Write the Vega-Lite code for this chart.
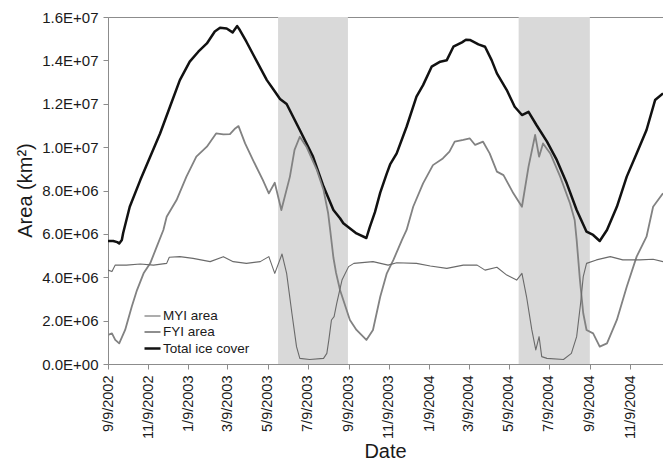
{
  "$schema": "https://vega.github.io/schema/vega-lite/v6.json",
  "width": 555,
  "height": 347,
  "autosize": {"type": "none"},
  "padding": {"left": 108, "top": 17, "right": 0, "bottom": 104},
  "background": "white",
  "config": {
    "font": "Liberation Sans",
    "view": {"stroke": "#8c8c8c", "strokeWidth": 1},
    "axis": {"grid": false, "domainColor": "#8c8c8c", "tickColor": "#8c8c8c", "tickSize": 5, "labelColor": "#1a1a1a", "titleColor": "#1a1a1a", "labelFont": "Liberation Sans", "titleFont": "Liberation Sans", "titleFontWeight": "normal"}
  },
  "datasets": {
    "shade": [
      {"start": "2003-05-25", "end": "2003-09-08"},
      {"start": "2004-05-24", "end": "2004-09-09"}
    ],
    "ice": [
      {"date": "2002-09-09", "series": "Total ice cover", "value": 5670000},
      {"date": "2002-09-17", "series": "Total ice cover", "value": 5670000},
      {"date": "2002-09-23", "series": "Total ice cover", "value": 5620000},
      {"date": "2002-09-26", "series": "Total ice cover", "value": 5560000},
      {"date": "2002-09-30", "series": "Total ice cover", "value": 5720000},
      {"date": "2002-10-02", "series": "Total ice cover", "value": 6040000},
      {"date": "2002-10-12", "series": "Total ice cover", "value": 7250000},
      {"date": "2002-10-28", "series": "Total ice cover", "value": 8480000},
      {"date": "2002-11-12", "series": "Total ice cover", "value": 9560000},
      {"date": "2002-11-27", "series": "Total ice cover", "value": 10630000},
      {"date": "2002-12-12", "series": "Total ice cover", "value": 11860000},
      {"date": "2002-12-27", "series": "Total ice cover", "value": 13090000},
      {"date": "2003-01-11", "series": "Total ice cover", "value": 13940000},
      {"date": "2003-01-24", "series": "Total ice cover", "value": 14400000},
      {"date": "2003-02-06", "series": "Total ice cover", "value": 14780000},
      {"date": "2003-02-18", "series": "Total ice cover", "value": 15330000},
      {"date": "2003-02-26", "series": "Total ice cover", "value": 15500000},
      {"date": "2003-03-08", "series": "Total ice cover", "value": 15470000},
      {"date": "2003-03-17", "series": "Total ice cover", "value": 15290000},
      {"date": "2003-03-24", "series": "Total ice cover", "value": 15580000},
      {"date": "2003-03-28", "series": "Total ice cover", "value": 15400000},
      {"date": "2003-04-07", "series": "Total ice cover", "value": 14860000},
      {"date": "2003-04-23", "series": "Total ice cover", "value": 13940000},
      {"date": "2003-05-08", "series": "Total ice cover", "value": 13090000},
      {"date": "2003-05-18", "series": "Total ice cover", "value": 12660000},
      {"date": "2003-05-28", "series": "Total ice cover", "value": 12220000},
      {"date": "2003-06-07", "series": "Total ice cover", "value": 11990000},
      {"date": "2003-06-27", "series": "Total ice cover", "value": 10790000},
      {"date": "2003-07-17", "series": "Total ice cover", "value": 9560000},
      {"date": "2003-08-02", "series": "Total ice cover", "value": 8180000},
      {"date": "2003-08-17", "series": "Total ice cover", "value": 7100000},
      {"date": "2003-08-27", "series": "Total ice cover", "value": 6720000},
      {"date": "2003-09-01", "series": "Total ice cover", "value": 6490000},
      {"date": "2003-09-21", "series": "Total ice cover", "value": 6020000},
      {"date": "2003-10-06", "series": "Total ice cover", "value": 5810000},
      {"date": "2003-10-11", "series": "Total ice cover", "value": 6300000},
      {"date": "2003-10-19", "series": "Total ice cover", "value": 7000000},
      {"date": "2003-10-27", "series": "Total ice cover", "value": 7900000},
      {"date": "2003-11-06", "series": "Total ice cover", "value": 8790000},
      {"date": "2003-11-11", "series": "Total ice cover", "value": 9200000},
      {"date": "2003-11-21", "series": "Total ice cover", "value": 9710000},
      {"date": "2003-12-06", "series": "Total ice cover", "value": 10940000},
      {"date": "2003-12-21", "series": "Total ice cover", "value": 12330000},
      {"date": "2003-12-31", "series": "Total ice cover", "value": 12860000},
      {"date": "2004-01-13", "series": "Total ice cover", "value": 13710000},
      {"date": "2004-01-26", "series": "Total ice cover", "value": 13940000},
      {"date": "2004-02-05", "series": "Total ice cover", "value": 14010000},
      {"date": "2004-02-15", "series": "Total ice cover", "value": 14630000},
      {"date": "2004-02-28", "series": "Total ice cover", "value": 14830000},
      {"date": "2004-03-05", "series": "Total ice cover", "value": 14950000},
      {"date": "2004-03-11", "series": "Total ice cover", "value": 14940000},
      {"date": "2004-03-24", "series": "Total ice cover", "value": 14740000},
      {"date": "2004-04-03", "series": "Total ice cover", "value": 14630000},
      {"date": "2004-04-13", "series": "Total ice cover", "value": 14010000},
      {"date": "2004-04-21", "series": "Total ice cover", "value": 13400000},
      {"date": "2004-05-06", "series": "Total ice cover", "value": 12630000},
      {"date": "2004-05-18", "series": "Total ice cover", "value": 11860000},
      {"date": "2004-05-29", "series": "Total ice cover", "value": 11480000},
      {"date": "2004-06-08", "series": "Total ice cover", "value": 11630000},
      {"date": "2004-06-20", "series": "Total ice cover", "value": 11020000},
      {"date": "2004-07-06", "series": "Total ice cover", "value": 10250000},
      {"date": "2004-07-21", "series": "Total ice cover", "value": 9400000},
      {"date": "2004-08-05", "series": "Total ice cover", "value": 8330000},
      {"date": "2004-08-20", "series": "Total ice cover", "value": 7100000},
      {"date": "2004-09-04", "series": "Total ice cover", "value": 6100000},
      {"date": "2004-09-14", "series": "Total ice cover", "value": 5950000},
      {"date": "2004-09-24", "series": "Total ice cover", "value": 5670000},
      {"date": "2004-10-05", "series": "Total ice cover", "value": 6180000},
      {"date": "2004-10-20", "series": "Total ice cover", "value": 7250000},
      {"date": "2004-11-04", "series": "Total ice cover", "value": 8640000},
      {"date": "2004-11-19", "series": "Total ice cover", "value": 9710000},
      {"date": "2004-12-04", "series": "Total ice cover", "value": 10790000},
      {"date": "2004-12-17", "series": "Total ice cover", "value": 12170000},
      {"date": "2004-12-29", "series": "Total ice cover", "value": 12480000},

      {"date": "2002-09-09", "series": "FYI area", "value": 1340000},
      {"date": "2002-09-15", "series": "FYI area", "value": 1410000},
      {"date": "2002-09-20", "series": "FYI area", "value": 1110000},
      {"date": "2002-09-26", "series": "FYI area", "value": 950000},
      {"date": "2002-10-05", "series": "FYI area", "value": 1570000},
      {"date": "2002-10-15", "series": "FYI area", "value": 2640000},
      {"date": "2002-10-23", "series": "FYI area", "value": 3410000},
      {"date": "2002-11-02", "series": "FYI area", "value": 4180000},
      {"date": "2002-11-12", "series": "FYI area", "value": 4640000},
      {"date": "2002-11-22", "series": "FYI area", "value": 5410000},
      {"date": "2002-12-02", "series": "FYI area", "value": 6180000},
      {"date": "2002-12-07", "series": "FYI area", "value": 6790000},
      {"date": "2002-12-22", "series": "FYI area", "value": 7560000},
      {"date": "2003-01-06", "series": "FYI area", "value": 8640000},
      {"date": "2003-01-21", "series": "FYI area", "value": 9560000},
      {"date": "2003-02-06", "series": "FYI area", "value": 10020000},
      {"date": "2003-02-20", "series": "FYI area", "value": 10630000},
      {"date": "2003-03-03", "series": "FYI area", "value": 10590000},
      {"date": "2003-03-13", "series": "FYI area", "value": 10600000},
      {"date": "2003-03-21", "series": "FYI area", "value": 10860000},
      {"date": "2003-03-26", "series": "FYI area", "value": 10970000},
      {"date": "2003-04-05", "series": "FYI area", "value": 10170000},
      {"date": "2003-04-17", "series": "FYI area", "value": 9400000},
      {"date": "2003-05-02", "series": "FYI area", "value": 8480000},
      {"date": "2003-05-11", "series": "FYI area", "value": 7870000},
      {"date": "2003-05-20", "series": "FYI area", "value": 8360000},
      {"date": "2003-05-30", "series": "FYI area", "value": 7100000},
      {"date": "2003-06-12", "series": "FYI area", "value": 8640000},
      {"date": "2003-06-19", "series": "FYI area", "value": 9870000},
      {"date": "2003-06-27", "series": "FYI area", "value": 10480000},
      {"date": "2003-07-07", "series": "FYI area", "value": 10020000},
      {"date": "2003-07-23", "series": "FYI area", "value": 8940000},
      {"date": "2003-08-02", "series": "FYI area", "value": 8020000},
      {"date": "2003-08-09", "series": "FYI area", "value": 6950000},
      {"date": "2003-08-12", "series": "FYI area", "value": 6200000},
      {"date": "2003-08-17", "series": "FYI area", "value": 4900000},
      {"date": "2003-08-21", "series": "FYI area", "value": 4200000},
      {"date": "2003-08-27", "series": "FYI area", "value": 3410000},
      {"date": "2003-09-11", "series": "FYI area", "value": 2030000},
      {"date": "2003-09-21", "series": "FYI area", "value": 1570000},
      {"date": "2003-10-06", "series": "FYI area", "value": 1110000},
      {"date": "2003-10-16", "series": "FYI area", "value": 1570000},
      {"date": "2003-10-27", "series": "FYI area", "value": 3100000},
      {"date": "2003-11-06", "series": "FYI area", "value": 4180000},
      {"date": "2003-11-16", "series": "FYI area", "value": 4800000},
      {"date": "2003-11-29", "series": "FYI area", "value": 5720000},
      {"date": "2003-12-06", "series": "FYI area", "value": 6180000},
      {"date": "2003-12-16", "series": "FYI area", "value": 7250000},
      {"date": "2003-12-31", "series": "FYI area", "value": 8330000},
      {"date": "2004-01-15", "series": "FYI area", "value": 9170000},
      {"date": "2004-01-30", "series": "FYI area", "value": 9480000},
      {"date": "2004-02-09", "series": "FYI area", "value": 9790000},
      {"date": "2004-02-17", "series": "FYI area", "value": 10250000},
      {"date": "2004-03-01", "series": "FYI area", "value": 10330000},
      {"date": "2004-03-11", "series": "FYI area", "value": 10400000},
      {"date": "2004-03-19", "series": "FYI area", "value": 10100000},
      {"date": "2004-03-31", "series": "FYI area", "value": 10250000},
      {"date": "2004-04-10", "series": "FYI area", "value": 9710000},
      {"date": "2004-04-21", "series": "FYI area", "value": 8870000},
      {"date": "2004-05-01", "series": "FYI area", "value": 8710000},
      {"date": "2004-05-16", "series": "FYI area", "value": 7870000},
      {"date": "2004-05-29", "series": "FYI area", "value": 7250000},
      {"date": "2004-06-08", "series": "FYI area", "value": 9100000},
      {"date": "2004-06-18", "series": "FYI area", "value": 10560000},
      {"date": "2004-06-24", "series": "FYI area", "value": 9560000},
      {"date": "2004-06-30", "series": "FYI area", "value": 10170000},
      {"date": "2004-07-11", "series": "FYI area", "value": 9710000},
      {"date": "2004-07-26", "series": "FYI area", "value": 8640000},
      {"date": "2004-08-10", "series": "FYI area", "value": 7400000},
      {"date": "2004-08-17", "series": "FYI area", "value": 6640000},
      {"date": "2004-08-20", "series": "FYI area", "value": 5720000},
      {"date": "2004-08-25", "series": "FYI area", "value": 3870000},
      {"date": "2004-08-30", "series": "FYI area", "value": 2340000},
      {"date": "2004-09-04", "series": "FYI area", "value": 1570000},
      {"date": "2004-09-14", "series": "FYI area", "value": 1410000},
      {"date": "2004-09-24", "series": "FYI area", "value": 800000},
      {"date": "2004-10-05", "series": "FYI area", "value": 950000},
      {"date": "2004-10-20", "series": "FYI area", "value": 2030000},
      {"date": "2004-11-04", "series": "FYI area", "value": 3560000},
      {"date": "2004-11-19", "series": "FYI area", "value": 4950000},
      {"date": "2004-12-04", "series": "FYI area", "value": 5870000},
      {"date": "2004-12-14", "series": "FYI area", "value": 7250000},
      {"date": "2004-12-29", "series": "FYI area", "value": 7870000},

      {"date": "2002-09-09", "series": "MYI area", "value": 4330000},
      {"date": "2002-09-15", "series": "MYI area", "value": 4260000},
      {"date": "2002-09-20", "series": "MYI area", "value": 4560000},
      {"date": "2002-10-07", "series": "MYI area", "value": 4560000},
      {"date": "2002-10-28", "series": "MYI area", "value": 4610000},
      {"date": "2002-11-17", "series": "MYI area", "value": 4560000},
      {"date": "2002-12-07", "series": "MYI area", "value": 4640000},
      {"date": "2002-12-11", "series": "MYI area", "value": 4920000},
      {"date": "2002-12-27", "series": "MYI area", "value": 4950000},
      {"date": "2003-01-16", "series": "MYI area", "value": 4870000},
      {"date": "2003-02-11", "series": "MYI area", "value": 4720000},
      {"date": "2003-03-03", "series": "MYI area", "value": 4950000},
      {"date": "2003-03-18", "series": "MYI area", "value": 4720000},
      {"date": "2003-04-07", "series": "MYI area", "value": 4640000},
      {"date": "2003-04-28", "series": "MYI area", "value": 4720000},
      {"date": "2003-05-11", "series": "MYI area", "value": 4950000},
      {"date": "2003-05-20", "series": "MYI area", "value": 4180000},
      {"date": "2003-05-31", "series": "MYI area", "value": 5070000},
      {"date": "2003-06-07", "series": "MYI area", "value": 4180000},
      {"date": "2003-06-15", "series": "MYI area", "value": 2340000},
      {"date": "2003-06-22", "series": "MYI area", "value": 800000},
      {"date": "2003-06-27", "series": "MYI area", "value": 260000},
      {"date": "2003-07-12", "series": "MYI area", "value": 210000},
      {"date": "2003-08-02", "series": "MYI area", "value": 260000},
      {"date": "2003-08-07", "series": "MYI area", "value": 490000},
      {"date": "2003-08-10", "series": "MYI area", "value": 1100000},
      {"date": "2003-08-14", "series": "MYI area", "value": 2030000},
      {"date": "2003-08-18", "series": "MYI area", "value": 2180000},
      {"date": "2003-08-22", "series": "MYI area", "value": 2800000},
      {"date": "2003-08-30", "series": "MYI area", "value": 3870000},
      {"date": "2003-09-09", "series": "MYI area", "value": 4490000},
      {"date": "2003-09-17", "series": "MYI area", "value": 4640000},
      {"date": "2003-10-16", "series": "MYI area", "value": 4720000},
      {"date": "2003-11-08", "series": "MYI area", "value": 4560000},
      {"date": "2003-11-21", "series": "MYI area", "value": 4670000},
      {"date": "2003-12-21", "series": "MYI area", "value": 4640000},
      {"date": "2004-01-11", "series": "MYI area", "value": 4520000},
      {"date": "2004-02-05", "series": "MYI area", "value": 4410000},
      {"date": "2004-03-01", "series": "MYI area", "value": 4560000},
      {"date": "2004-03-22", "series": "MYI area", "value": 4560000},
      {"date": "2004-04-03", "series": "MYI area", "value": 4330000},
      {"date": "2004-04-21", "series": "MYI area", "value": 4460000},
      {"date": "2004-05-06", "series": "MYI area", "value": 4100000},
      {"date": "2004-05-21", "series": "MYI area", "value": 3870000},
      {"date": "2004-05-29", "series": "MYI area", "value": 4180000},
      {"date": "2004-06-05", "series": "MYI area", "value": 3100000},
      {"date": "2004-06-13", "series": "MYI area", "value": 1570000},
      {"date": "2004-06-19", "series": "MYI area", "value": 650000},
      {"date": "2004-06-24", "series": "MYI area", "value": 1260000},
      {"date": "2004-06-28", "series": "MYI area", "value": 340000},
      {"date": "2004-07-06", "series": "MYI area", "value": 260000},
      {"date": "2004-07-31", "series": "MYI area", "value": 210000},
      {"date": "2004-08-12", "series": "MYI area", "value": 490000},
      {"date": "2004-08-20", "series": "MYI area", "value": 1260000},
      {"date": "2004-08-26", "series": "MYI area", "value": 2800000},
      {"date": "2004-08-30", "series": "MYI area", "value": 4030000},
      {"date": "2004-09-04", "series": "MYI area", "value": 4640000},
      {"date": "2004-09-19", "series": "MYI area", "value": 4800000},
      {"date": "2004-10-10", "series": "MYI area", "value": 4950000},
      {"date": "2004-10-29", "series": "MYI area", "value": 4800000},
      {"date": "2004-11-24", "series": "MYI area", "value": 4800000},
      {"date": "2004-12-14", "series": "MYI area", "value": 4830000},
      {"date": "2004-12-29", "series": "MYI area", "value": 4720000}
    ]
  },
  "layer": [
    {
      "data": {"name": "shade"},
      "mark": {"type": "rect", "color": "#d9d9d9"},
      "encoding": {
        "x": {"field": "start", "type": "temporal", "scale": {"type": "utc"}},
        "x2": {"field": "end"}
      }
    },
    {
      "data": {"name": "ice"},
      "mark": {"type": "line", "strokeJoin": "round", "clip": true},
      "encoding": {
        "x": {
          "field": "date", "type": "temporal",
          "scale": {"type": "utc", "domain": [{"year": 2002, "month": 9, "date": 9, "utc": true}, {"year": 2004, "month": 12, "date": 29, "utc": true}]},
          "axis": {
            "title": "Date", "titleFontSize": 20, "titleY": 87, "titleX": 277, "titleBaseline": "middle",
            "values": [
              {"year": 2002, "month": 9, "date": 9, "utc": true},
              {"year": 2002, "month": 11, "date": 9, "utc": true},
              {"year": 2003, "month": 1, "date": 9, "utc": true},
              {"year": 2003, "month": 3, "date": 9, "utc": true},
              {"year": 2003, "month": 5, "date": 9, "utc": true},
              {"year": 2003, "month": 7, "date": 9, "utc": true},
              {"year": 2003, "month": 9, "date": 9, "utc": true},
              {"year": 2003, "month": 11, "date": 9, "utc": true},
              {"year": 2004, "month": 1, "date": 9, "utc": true},
              {"year": 2004, "month": 3, "date": 9, "utc": true},
              {"year": 2004, "month": 5, "date": 9, "utc": true},
              {"year": 2004, "month": 7, "date": 9, "utc": true},
              {"year": 2004, "month": 9, "date": 9, "utc": true},
              {"year": 2004, "month": 11, "date": 9, "utc": true}
            ],
            "labelExpr": "utcFormat(datum.value, '%-m/%-d/%Y')",
            "labelAngle": -90, "labelFontSize": 14.5, "labelPadding": 6, "labelOverlap": false, "labelFlush": false
          }
        },
        "y": {
          "field": "value", "type": "quantitative",
          "scale": {"domain": [0, 16000000], "nice": false},
          "axis": {
            "title": "Area (km²)", "titleFontSize": 20, "titleX": -83, "titleY": 173, "titleAngle": -90, "titleBaseline": "middle", "titleAlign": "center",
            "values": [0, 2000000, 4000000, 6000000, 8000000, 10000000, 12000000, 14000000, 16000000],
            "labelExpr": "datum.value == 0 ? '0.0E+00' : (datum.value < 10000000 ? format(datum.value / 1000000, '.1f') + 'E+06' : format(datum.value / 10000000, '.1f') + 'E+07')",
            "labelFontSize": 15, "labelPadding": 5
          }
        },
        "color": {
          "field": "series", "type": "nominal",
          "scale": {"domain": ["MYI area", "FYI area", "Total ice cover"], "range": ["#6a6a6a", "#828282", "#111111"]},
          "legend": {"title": null, "orient": "none", "legendX": 35, "legendY": 290, "symbolType": "stroke", "symbolSize": 256, "labelFontSize": 13.5, "labelOffset": 1, "rowPadding": 0, "labelColor": "#1a1a1a", "padding": 0}
        },
        "strokeWidth": {
          "field": "series", "type": "nominal",
          "scale": {"domain": ["MYI area", "FYI area", "Total ice cover"], "range": [1.1, 2.5, 2.6]},
          "legend": {"title": null, "orient": "none", "legendX": 35, "legendY": 290, "symbolType": "stroke", "symbolSize": 256, "labelFontSize": 13.5, "labelOffset": 1, "rowPadding": 0, "labelColor": "#1a1a1a", "padding": 0}
        },
        "order": {"field": "date", "type": "temporal"}
      }
    }
  ]
}
